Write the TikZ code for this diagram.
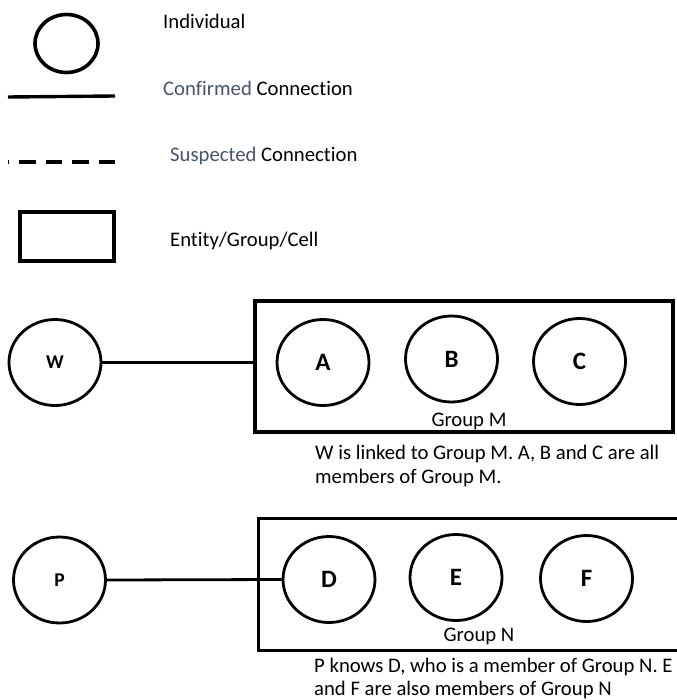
\documentclass[tikz,border=0pt]{standalone}
\usepackage{fontspec}
\setmainfont{Carlito}[Ligatures=CommonOff]
\usetikzlibrary{shapes.geometric}
\definecolor{slateblue}{HTML}{44546A}
\tikzset{
  txt/.style={inner sep=0pt, anchor=base west, font=\fontsize{20.7}{24}\selectfont},
  grp/.style={inner sep=0pt, anchor=base, font=\fontsize{20.7}{24}\selectfont},
  person/.style={draw, ellipse, line width=2.8pt, inner sep=0pt, minimum width=92pt, minimum height=86pt, font=\bfseries\fontsize{25}{28}\selectfont},
  smallperson/.style={person, font=\bfseries\fontsize{19.5}{22}\selectfont},
  groupbox/.style={draw, line width=3.2pt, inner sep=0pt},
  conn/.style={line width=2.8pt},
}
\begin{document}
\begin{tikzpicture}[x=1pt,y=-1pt]
\useasboundingbox (0,0) rectangle (676,700);
% ---------- legend ----------
\node[draw, ellipse, line width=3.6pt, inner sep=0pt, minimum width=63pt, minimum height=58pt] (legcirc) at (66.5,43.5) {};
\node[txt] (legind) at (163,29) {Individual};
\coordinate (ls1) at (8,97);
\coordinate (ls2) at (115,96);
\draw[line width=3.4pt] (ls1) -- (ls2);
\node[txt] (legconf) at (163,96) {\textcolor{slateblue}{Confirmed} Connection};
\coordinate (ld1) at (8,162);
\coordinate (ld2) at (115,162);
\draw[line width=4.6pt, dash pattern=on 16.5pt off 10pt, dash phase=15.5pt] (ld1) -- (ld2);
\node[txt] (legsus) at (170,162) {\textcolor{slateblue}{Suspected} Connection};
\node[draw, line width=4pt, inner sep=0pt, minimum width=94pt, minimum height=49pt] (legrect) at (67,236.5) {};
\node[txt] (legent) at (170,247) {Entity/Group/Cell};
% ---------- group M ----------
\node[groupbox, minimum width=418pt, minimum height=131pt] (M) at (464,366.5) {};
\node[smallperson] (W) at (55,362.5) {W};
\node[person] (A) at (323,362.5) {A};
\node[person] (B) at (451.5,359) {B};
\node[person] (C) at (579.5,361.5) {C};
\node[grp] (Mlab) at (469,426) {Group M};
\draw[conn] (W.east) -- (W.east -| M.west);
\node[txt] (Mcap1) at (315,459) {W is linked to Group M. A, B and C are all};
\node[txt] (Mcap2) at (315,483) {members of Group M.};
% ---------- group N ----------
\node[inner sep=0pt, minimum width=420pt, minimum height=131pt] (N) at (469,584.5) {};
\draw[line width=3.2pt] (N.north east) -- (N.north west) -- (N.south west) -- (N.south east);
\node[smallperson] (P) at (59.5,580) {P};
\node[person] (D) at (329,579.5) {D};
\node[person] (E) at (456,577.5) {E};
\node[person] (F) at (586.5,578.5) {F};
\node[grp] (Nlab) at (479,641) {Group N};
\draw[conn] (P.east) -- (D.west);
\node[txt] (Ncap1) at (314,672) {P knows D, who is a member of Group N. E};
\node[txt] (Ncap2) at (314,695) {and F are also members of Group N};
\end{tikzpicture}
\end{document}
